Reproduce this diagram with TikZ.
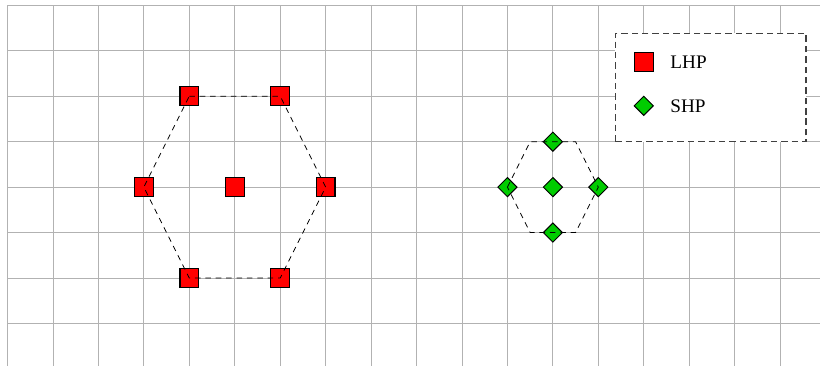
\documentclass[tikz,border=0pt]{standalone}
\usepackage{fontspec}
\setmainfont{Liberation Serif}
\usetikzlibrary{shapes.geometric}

\tikzset{
	gridline/.style = {gray!60, line width = 0.5pt},
	lhp/.style = {rectangle, draw = black, fill = red, line width = 0.7pt, minimum size = 0.41cm, inner sep = 0pt},
	shp/.style = {diamond, draw = black, fill = green!80!black, line width = 0.6pt, minimum size = 0.43cm, inner sep = 0pt},
	hull/.style = {line width = 0.5pt, dash pattern = on 3.5pt off 3pt, black},
	legendbox/.style = {draw = black!75, dash pattern = on 4pt off 2.5pt, line width = 0.7pt, fill = white, inner sep = 0pt},
	legendtext/.style = {anchor = west, inner sep = 0pt, font = \fontsize{12}{14}\selectfont}
}

\begin{document}
\begin{tikzpicture}
	\useasboundingbox (-0.165, -0.936) rectangle (17.877, 7.117);
	\fill[white] (-0.165, -0.936) rectangle (17.877, 7.117);
	% grid
	\foreach \x in {0, ..., 17}
	\draw[gridline] (\x, -0.936) -- (\x, 7);
	\foreach \y in {0, ..., 7}
	\draw[gridline] (0, \y) -- (17.877, \y);
	
	% LHP lattice
	\foreach \name/\pos in {la/{(4, 5)}, lb/{(6, 5)}, lc/{(7, 3)}, ld/{(6, 1)}, le/{(4, 1)}, lf/{(3, 3)}, lo/{(5, 3)}}
	\node[lhp] (\name) at \pos {};
	\draw[hull] (la.center) -- (lb.center) -- (lc.center) -- (ld.center) -- (le.center) -- (lf.center) -- cycle;
	
	% SHP lattice
	\foreach \name/\pos in {sa/{(12, 4)}, sb/{(13, 3)}, sc/{(12, 2)}, sd/{(11, 3)}, so/{(12, 3)}}
	\node[shp] (\name) at \pos {};
	\coordinate (ta) at (11.5, 4);
	\coordinate (tb) at (12.5, 4);
	\coordinate (tc) at (12.5, 2);
	\coordinate (td) at (11.5, 2);
	\draw[hull] (sd.center) -- (ta) -- (tb) -- (sb.center) -- (tc) -- (td) -- cycle;
	
	% legend
	\node[legendbox, minimum width = 4.2cm, minimum height = 2.384cm] (legend) at (15.47, 5.192) {};
	\node[lhp] (keylhp) at (14, 5.757) {};
	\node[legendtext] (txtlhp) at (14.58, 5.757) {LHP};
	\node[shp] (keyshp) at (14, 4.789) {};
	\node[legendtext] (txtshp) at (14.58, 4.789) {SHP};
\end{tikzpicture}
\end{document}
